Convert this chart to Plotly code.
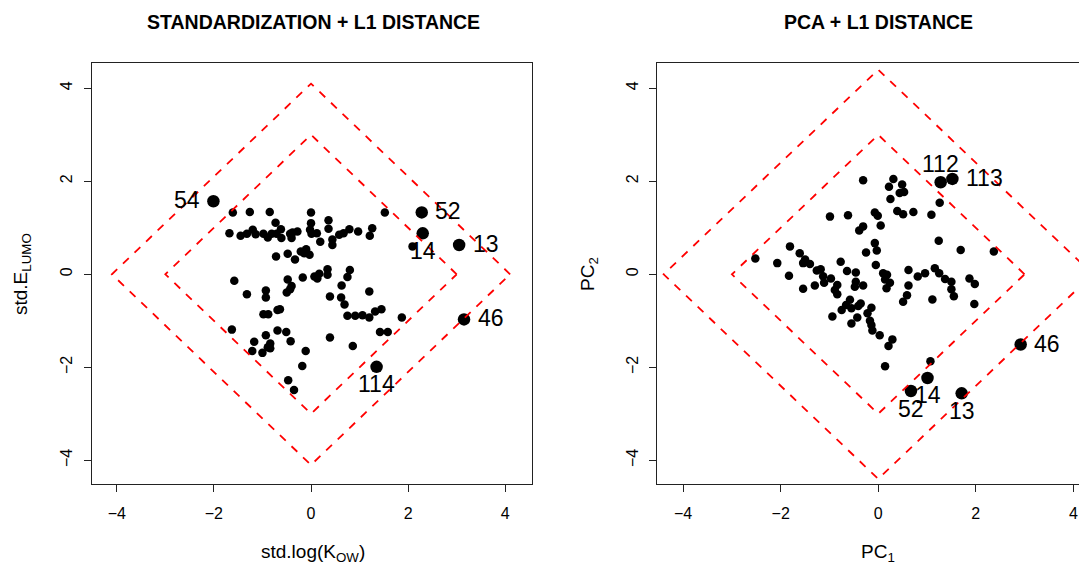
import plotly.graph_objects as go

# ---------------- data: left panel (standardization) ----------------
std_logkow = [-1.61, -1.26, -0.85, 0.00, 1.52, -0.73, 0.36, 0.00, 0.36, 1.26, 1.21,
              -1.68, -1.45, -1.32, -1.20, -1.14, -0.98, -0.89, -0.81, -0.71, -0.62, -0.61,
              -0.43, -0.40, -0.28, -0.38, -0.02, 0.01, 0.12, 0.19, 0.44, 0.44, 0.58, 0.67,
              0.79, 0.97, -0.72, -0.48, -0.33, -0.21, -0.10, -0.03, -0.14, -1.58, -0.48,
              -0.17, 0.07, 0.17, 0.13, 0.34, 0.34, 0.80, 0.75, 0.63, 1.20, -1.32, -0.93,
              -0.93, -0.50, -0.40, -0.43, 0.39, 0.62, 0.69, -0.98, -0.88, -0.69, -0.64,
              0.75, 0.91, 1.06, 1.20, 1.32, 1.45, 1.87, -1.63, -0.69, -0.51, -0.42, -0.93,
              0.39, 1.42, 1.58, -1.17, -0.84, -0.89, -1.21, -1.00, -0.84, -0.11, 0.86,
              -0.18, -0.47, -0.35, 2.09]
std_elumo = [1.33, 1.34, 1.34, 1.33, 1.33, 1.11, 1.16, 1.10, 0.98, 0.99, 0.83,
             0.88, 0.83, 0.87, 0.96, 0.86, 0.87, 0.79, 0.87, 0.87, 0.97, 0.78,
             0.87, 0.78, 0.92, 0.90, 0.96, 0.87, 0.88, 0.70, 0.75, 0.63, 0.85, 0.88,
             0.97, 0.92, 0.38, 0.44, 0.32, 0.49, 0.54, 0.42, 0.45, -0.14, -0.11,
             -0.07, -0.05, 0.01, -0.09, 0.11, -0.01, 0.09, -0.06, -0.24, -0.37, -0.43, -0.35,
             -0.50, -0.39, -0.25, -0.32, -0.48, -0.50, -0.65, -0.86, -0.86, -0.77, -0.75,
             -0.89, -0.89, -0.88, -0.93, -0.80, -0.75, -0.93, -1.19, -1.21, -1.24, -1.44, -1.31,
             -1.36, -1.24, -1.24, -1.45, -1.49, -1.57, -1.65, -1.69, -1.59, -1.65, -1.54,
             -1.97, -2.28, -2.49, 0.60]
out_std_x = [-2.01, 2.28, 2.30, 3.05, 3.15, 1.35]
out_std_y = [1.57, 1.33, 0.88, 0.63, -0.97, -1.99]
out_std_lab = ["54", "52", "14", "13", "46", "114"]
out_std_pos = ["left", "right", "below", "right", "right", "below"]
std_radii = [3.0, 4.1]

# ---------------- data: right panel (PCA) ----------------
pc1 = [-0.31, 0.31, 0.22, 0.49, 0.44, 0.53, 0.25, 1.26, 0.39, 0.51, 0.72, 1.09,
       -0.99, -0.62, -0.07, -0.01, 0.05, -0.31, -0.39, 1.24, 1.69, 2.37, -0.07,
       -0.03, -0.25, -1.81, -1.61, -1.50, -2.52, -2.07, -1.54, -1.40, -1.83, -1.26,
       -1.18, -1.13, -0.97, -1.11, -1.30, -1.54, -0.77, -0.64, -0.46, -0.05, 0.10,
       0.18, 0.14, 0.24, 0.17, -0.46, -0.48, -0.31, -0.84, -0.89, -0.84, 0.62, 0.81,
       0.96, 1.16, 1.25, 1.37, 1.50, 1.50, 1.55, 1.87, 1.98, 0.62, 0.59, 0.51, 1.11,
       1.97, -0.58, -0.66, -0.55, -0.75, -0.36, -0.41, -0.14, -0.22, -0.94, -0.43,
       -0.55, -0.17, -0.14, -0.12, 0.03, 0.29, 0.21, 0.14, 1.07]
pc2 = [2.02, 2.05, 1.88, 1.93, 1.75, 1.77, 1.62, 1.54, 1.36, 1.29, 1.34, 1.28,
       1.24, 1.27, 1.33, 1.26, 1.05, 1.03, 0.94, 0.72, 0.52, 0.49, 0.67,
       0.51, 0.47, 0.60, 0.45, 0.32, 0.34, 0.24, 0.24, 0.22, -0.03, 0.08,
       0.11, -0.04, -0.09, -0.18, -0.24, -0.31, 0.27, 0.07, 0.04, 0.20, 0.02,
       -0.01, -0.11, -0.18, -0.30, -0.16, -0.27, -0.24, -0.23, -0.34, -0.43, 0.09, -0.05,
       0.02, 0.13, 0.02, -0.10, -0.16, -0.32, -0.47, -0.09, -0.21, -0.24, -0.45, -0.59, -0.54,
       -0.64, -0.55, -0.66, -0.73, -0.77, -0.63, -0.68, -0.72, -0.84, -0.91, -0.93,
       -1.06, -1.00, -1.09, -1.21, -1.31, -1.40, -1.54, -1.98, -1.87]
out_pc_x = [1.28, 1.52, 2.92, 1.01, 0.67, 1.71]
out_pc_y = [1.98, 2.05, -1.51, -2.23, -2.51, -2.56]
out_pc_lab = ["112", "113", "46", "14", "52", "13"]
out_pc_pos = ["above", "right", "right", "below", "below", "below"]
pc_radii = [3.0, 4.4]

titles = ["STANDARDIZATION + L1 DISTANCE", "PCA + L1 DISTANCE"]
xtitles = ["std.log(K<sub>OW</sub>)", "PC<sub>1</sub>"]
ytitles = ["std.E<sub>LUMO</sub>", "PC<sub>2</sub>"]
tick_vals = [-4, -2, 0, 2, 4]

FONT = "Liberation Sans, Arial, sans-serif"
PAGE_W, PAGE_H = 1087, 566
OFF = 8  # default page body margin
W, H = PAGE_W - OFF, PAGE_H - OFF

fig = go.Figure()


def diamond(r):
    return [r, 0, -r, 0, r], [0, r, 0, -r, 0]


def px(v):  # page pixel -> paper x
    return (v - OFF) / W


def py(v):  # page pixel -> paper y
    return 1 - (v - OFF) / H


panels = [
    dict(x=std_logkow, y=std_elumo, ox=out_std_x, oy=out_std_y, lab=out_std_lab,
         pos=out_std_pos, radii=std_radii, xa="x", ya="y"),
    dict(x=pc1, y=pc2, ox=out_pc_x, oy=out_pc_y, lab=out_pc_lab,
         pos=out_pc_pos, radii=pc_radii, xa="x2", ya="y2"),
]

shift = {"right": (11.5, 1, "left"), "left": (-11, 1, "right"),
         "below": (0, -17.5, "center"), "above": (0, 18, "center")}

annotations = []
for p in panels:
    fig.add_trace(go.Scatter(x=p["x"], y=p["y"], mode="markers", xaxis=p["xa"], yaxis=p["ya"],
                             marker=dict(color="black", size=8.5), showlegend=False,
                             hoverinfo="skip"))
    fig.add_trace(go.Scatter(x=p["ox"], y=p["oy"], mode="markers", xaxis=p["xa"], yaxis=p["ya"],
                             marker=dict(color="black", size=12.5), showlegend=False,
                             hoverinfo="skip"))
    for r in p["radii"]:
        dx, dy = diamond(r)
        fig.add_trace(go.Scatter(x=dx, y=dy, mode="lines", xaxis=p["xa"], yaxis=p["ya"],
                                 line=dict(color="#ff0000", width=1.8, dash="8px,8px"),
                                 showlegend=False, hoverinfo="skip"))
    for xv, yv, t, d in zip(p["ox"], p["oy"], p["lab"], p["pos"]):
        sx, sy, xa = shift[d]
        annotations.append(dict(x=xv, y=yv, xref=p["xa"], yref=p["ya"], text=t,
                                showarrow=False, xanchor=xa, yanchor="middle",
                                xshift=sx, yshift=sy,
                                font=dict(family=FONT, size=23, color="black")))

title_cx = [313, 878]
for i in range(2):
    annotations.append(dict(x=px(title_cx[i]), y=py(22), xref="paper", yref="paper",
                            text="<b>" + titles[i] + "</b>", showarrow=False,
                            xanchor="center", yanchor="middle",
                            font=dict(family=FONT, size=19.5, color="black")))
    annotations.append(dict(x=px(title_cx[i]), y=py(553), xref="paper", yref="paper",
                            text=xtitles[i], showarrow=False, xanchor="center", yanchor="middle",
                            font=dict(family=FONT, size=19, color="black")))
ytitle_x = [22, 589]
for i in range(2):
    annotations.append(dict(x=px(ytitle_x[i]), y=py(274), xref="paper", yref="paper",
                            text=ytitles[i], showarrow=False, textangle=-90,
                            xanchor="center", yanchor="middle",
                            font=dict(family=FONT, size=19, color="black")))

ax_common = dict(tickmode="array", tickvals=tick_vals, ticks="outside", ticklen=7,
                 tickwidth=1, tickcolor="#222", showline=True, linecolor="#222", linewidth=1,
                 showgrid=False, zeroline=False,
                 tickfont=dict(family=FONT, size=16, color="black"))

ydom = [py(484), py(62.7)]
fig.update_layout(
    width=W, height=H,
    margin=dict(l=0, r=0, t=0, b=0),
    paper_bgcolor="white", plot_bgcolor="white",
    showlegend=False,
    annotations=annotations,
    xaxis=dict(domain=[px(91.5), px(532)], range=[-4.52, 4.55], anchor="y", mirror=True,
               ticklabelstandoff=8, **ax_common),
    yaxis=dict(domain=ydom, range=[-4.51, 4.55], anchor="x", mirror=True,
               tickangle=-90, ticklabelstandoff=5, **ax_common),
    xaxis2=dict(domain=[px(657.3), 1.0], range=[-4.53, 4.28], anchor="y2", mirror=True,
                ticklabelstandoff=8, **ax_common),
    yaxis2=dict(domain=ydom, range=[-4.51, 4.55], anchor="x2", mirror=False,
                tickangle=-90, ticklabelstandoff=5, **ax_common),
)

fig.write_html("out.html")
